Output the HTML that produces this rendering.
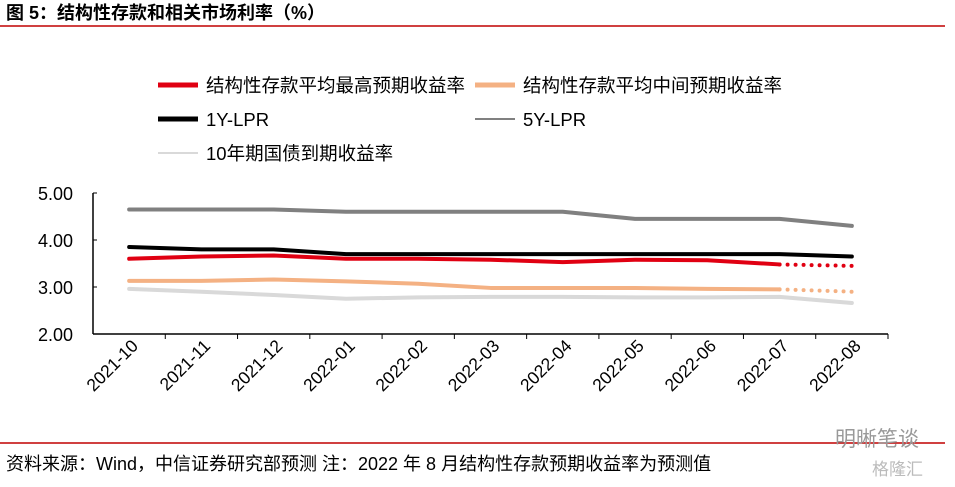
<!DOCTYPE html>
<html><head><meta charset="utf-8"><style>
body{margin:0;width:955px;height:482px;background:#fff;overflow:hidden;font-family:"Liberation Sans","Noto Sans CJK SC",sans-serif;}
</style></head><body>
<svg id="c" width="955" height="482" xmlns="http://www.w3.org/2000/svg">
<text x="6" y="19" font-size="18" font-weight="bold" fill="#000">图 5：结构性存款和相关市场利率（%）</text>
<line x1="0" y1="26" x2="945" y2="26" stroke="#c00000" stroke-width="1.5"/>
<line x1="0" y1="443" x2="945" y2="443" stroke="#c00000" stroke-width="1.5"/>
<text x="6" y="470" font-size="18" fill="#000">资料来源：Wind，中信证券研究部预测  注：2022 年 8 月结构性存款预期收益率为预测值</text>
<text x="835" y="446" font-size="21" fill="#999">明晰笔谈</text>
<text x="872" y="475" font-size="17" fill="#bbb">格隆汇</text>
<g id="legend" font-size="18.5" fill="#000">
<line x1="158" y1="85" x2="198" y2="85" stroke="#e00012" stroke-width="5"/>
<text x="206" y="92">结构性存款平均最高预期收益率</text>
<line x1="475" y1="85" x2="515" y2="85" stroke="#f4b183" stroke-width="5"/>
<text x="523" y="92">结构性存款平均中间预期收益率</text>
<line x1="158" y1="119" x2="198" y2="119" stroke="#000" stroke-width="5"/>
<text x="206" y="126">1Y-LPR</text>
<line x1="475" y1="119" x2="515" y2="119" stroke="#808080" stroke-width="2"/>
<text x="523" y="126">5Y-LPR</text>
<line x1="158" y1="153" x2="198" y2="153" stroke="#d9d9d9" stroke-width="2"/>
<text x="206" y="160">10年期国债到期收益率</text>
</g>
</svg>
<script>
const categories=["2021-10","2021-11","2021-12","2022-01","2022-02","2022-03","2022-04","2022-05","2022-06","2022-07","2022-08"];
const yTicks=[2,3,4,5];
const lpr5y=[4.65,4.65,4.65,4.60,4.60,4.60,4.60,4.45,4.45,4.45,4.30];
const lpr1y=[3.85,3.80,3.80,3.70,3.70,3.70,3.70,3.70,3.70,3.70,3.65];
const maxRate=[3.60,3.65,3.67,3.60,3.60,3.58,3.53,3.58,3.57,3.48,3.45];
const midRate=[3.13,3.13,3.16,3.12,3.07,2.98,2.98,2.98,2.96,2.95,2.90];
const cgb10y=[2.96,2.90,2.83,2.75,2.78,2.79,2.79,2.78,2.78,2.79,2.66];
const forecastFrom=9;
const NS="http://www.w3.org/2000/svg";
const svg=document.getElementById('c');
const x0=93,x1=888,yTop=193,yBot=334,vMin=2,vMax=5;
const step=(x1-x0)/categories.length;
const X=i=>x0+step*(i+0.5);
const Y=v=>yBot-(v-vMin)/(vMax-vMin)*(yBot-yTop);
function mk(t,a){const e=document.createElementNS(NS,t);for(const k in a)e.setAttribute(k,a[k]);svg.appendChild(e);return e;}
let e=mk('line',{x1:x0,y1:yTop,x2:x0,y2:yBot,stroke:'#000','stroke-width':1.5});


e=mk('line',{x1:x0,y1:yBot,x2:x1,y2:yBot,stroke:'#000','stroke-width':1.5});


yTicks.forEach(v=>{
 const t=mk('line',{x1:x0,y1:Y(v),x2:x0+4,y2:Y(v),stroke:'#000'});
 
 
 const l=mk('text',{x:73,y:Y(v)+7,'font-size':18,'text-anchor':'end'});
 l.textContent=v.toFixed(2);
 
 
});
categories.forEach((c,i)=>{
 const t=mk('line',{x1:x0+step*(i+1),y1:yBot,x2:x0+step*(i+1),y2:yBot+5,stroke:'#000'});
 
 
 const l=mk('text',{x:X(i)+10,y:yBot+13,'font-size':17.5,'text-anchor':'end',transform:`rotate(-45 ${X(i)+10} ${yBot+13})`});
 l.textContent=c;
 
 
});
function path(arr,a,b){return arr.slice(a,b).map((v,k)=>(k?'L':'M')+X(a+k)+','+Y(v)).join(' ');}
function series(arr,color,w,name,dotted){
 const end=dotted?forecastFrom+1:arr.length;
 const p=mk('path',{d:path(arr,0,end),fill:'none',stroke:color,'stroke-width':w,'stroke-linejoin':'round','stroke-linecap':'round'});
 
 
 if(dotted){
  const q=mk('path',{d:path(arr,forecastFrom,arr.length),fill:'none',stroke:color,'stroke-width':w,'stroke-dasharray':'0 8','stroke-linecap':'round'});
  
  
 }
}
series(cgb10y,'#d9d9d9',4,'line-10y',false);
series(lpr5y,'#808080',4,'line-5y-lpr',false);
series(midRate,'#f4b183',4,'line-mid-rate',true);
series(lpr1y,'#000',4,'line-1y-lpr',false);
series(maxRate,'#e00012',4,'line-max-rate',true);
</script>
</body></html>
